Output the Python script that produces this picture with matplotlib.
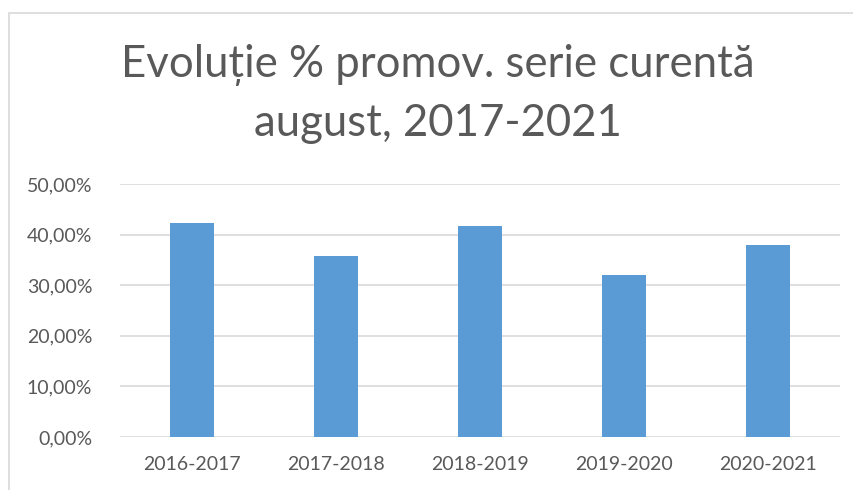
import matplotlib
matplotlib.use("Agg")
import matplotlib.pyplot as plt
from matplotlib.patches import Rectangle
from matplotlib.ticker import FuncFormatter

# data
years = ["2016-2017", "2017-2018", "2018-2019", "2019-2020", "2020-2021"]
promovare = [0.422, 0.357, 0.4175, 0.321, 0.380]
y_ticks = [0.0, 0.1, 0.2, 0.3, 0.4, 0.5]

plt.rcParams['font.family'] = ['Lato', 'DejaVu Sans']
text_col = '#595959'

fig = plt.figure(figsize=(8.54, 4.9), dpi=100)
ax = fig.add_axes([120 / 854, 1 - 437 / 490, 720 / 854, 253 / 490])

ax.bar(range(len(years)), promovare, width=0.31, color='#5b9bd5', zorder=3)
ax.set_xlim(-0.5, len(years) - 0.5)
ax.set_ylim(0, 0.5)
ax.set_yticks(y_ticks)
ax.yaxis.set_major_formatter(FuncFormatter(lambda v, p: f"{v*100:.2f}%".replace('.', ',')))
ax.set_xticks(range(len(years)))
ax.set_xticklabels(years)
ax.grid(axis='y', color='#d9d9d9', linewidth=1.2, zorder=0)
for s in ax.spines.values():
    s.set_visible(False)
ax.tick_params(length=0, labelsize=14, colors=text_col)
ax.tick_params(axis='y', pad=20)
ax.tick_params(axis='x', pad=14)

# chart border
fig.patches.append(Rectangle((9 / 854, -0.1), 1.0, 1 - 13 / 490 + 0.1, transform=fig.transFigure,
                             fill=False, edgecolor='#d9d9d9', linewidth=1.2))

fig.text(438 / 854, 1 - 65 / 490, "Evoluție % promov. serie curentă", ha='center', va='center',
         fontsize=31.5, color=text_col)
fig.text(438 / 854, 1 - 123 / 490, "august, 2017-2021", ha='center', va='center',
         fontsize=31.5, color=text_col)

fig.savefig("out.png", dpi=100)
